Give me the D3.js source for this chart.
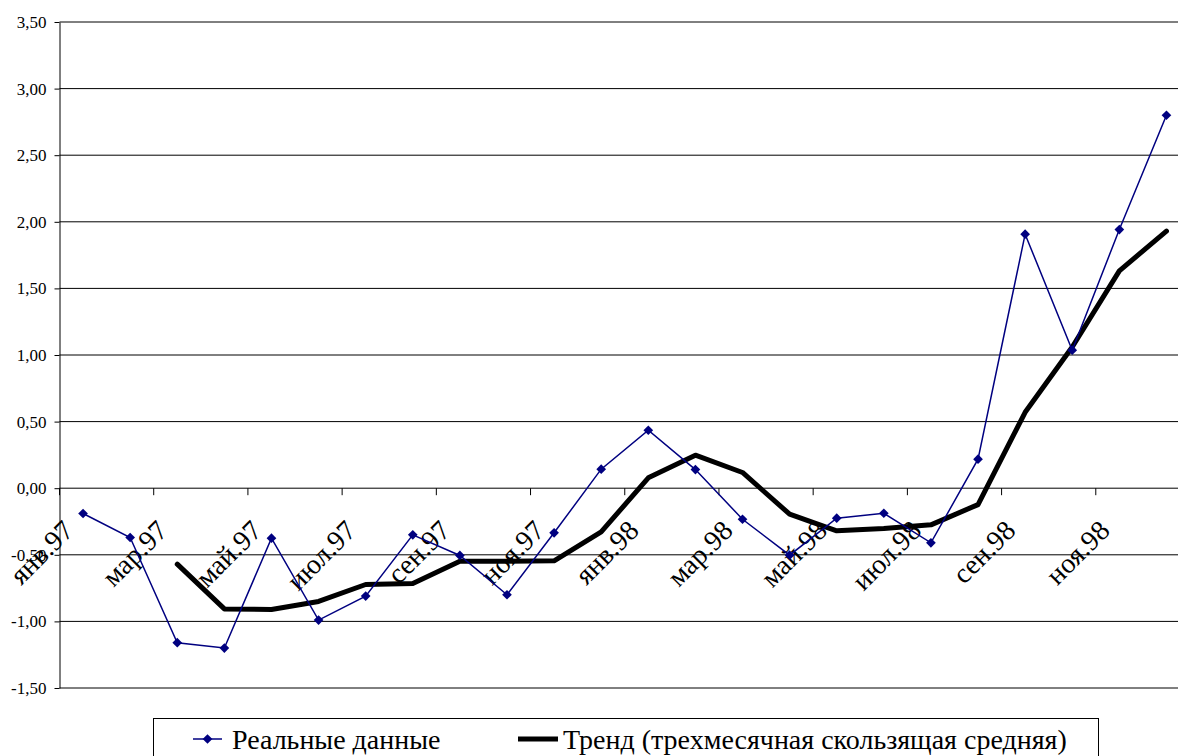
<!DOCTYPE html>
<html>
<head>
<meta charset="utf-8">
<script src="https://cdn.jsdelivr.net/npm/d3@7"></script>
<style>
  body { margin: 0; background: #fff; }
  svg text { font-family: "Liberation Serif", "Times New Roman", Times, "DejaVu Serif", serif; }
</style>
</head>
<body>
<div id="chart"></div>
<script>
var months = ["янв.97", "фев.97", "мар.97", "апр.97", "май.97", "июн.97",
    "июл.97", "авг.97", "сен.97", "окт.97", "ноя.97", "дек.97",
    "янв.98", "фев.98", "мар.98", "апр.98", "май.98", "июн.98",
    "июл.98", "авг.98", "сен.98", "окт.98", "ноя.98", "дек.98"];

// Реальные данные
var realValues = [-0.19, -0.37, -1.16, -1.20, -0.375, -0.99,
    -0.81, -0.35, -0.505, -0.80, -0.335, 0.143,
    0.435, 0.14, -0.233, -0.503, -0.225, -0.188,
    -0.41, 0.218, 1.907, 1.036, 1.942, 2.80];

// Тренд (трехмесячная скользящая средняя), first two months empty
var trendValues = [null, null, -0.57, -0.906, -0.91, -0.85,
    -0.723, -0.716, -0.548, -0.548, -0.545, -0.328,
    0.078, 0.248, 0.118, -0.195, -0.32, -0.303,
    -0.275, -0.123, 0.57, 1.06, 1.632, 1.93];

var yTicks = [-1.5, -1, -0.5, 0, 0.5, 1, 1.5, 2, 2.5, 3, 3.5];

var legendLabels = ["Реальные данные", "Тренд (трехмесячная скользящая средняя)"];

var fullWidth = 1178;
var fullHeight = 756;
var plotLeft = 59.5;
var plotRight = 1190;
var plotTop = 22;
var plotBottom = 688;
var serif = '"Liberation Serif", "Times New Roman", Times, "DejaVu Serif", serif';

var svg = d3.select("#chart")
    .append("svg")
    .attr("width", fullWidth)
    .attr("height", fullHeight);

var x = d3.scaleBand()
    .domain(months)
    .range([plotLeft, plotRight])
    .padding(0);

var cx = function (m) { return x(m) + x.bandwidth() / 2; };

var y = d3.scaleLinear()
    .domain([-1.5, 3.5])
    .range([plotBottom, plotTop]);

var fmt = function (d) { return d3.format(".2f")(d).replace(".", ",").replace("−", "-"); };

// gridlines
svg.append("g")
    .selectAll("line")
    .data(yTicks)
    .enter()
    .append("line")
    .attr("x1", plotLeft)
    .attr("x2", plotRight)
    .attr("y1", d => y(d))
    .attr("y2", d => y(d))
    .attr("stroke", "#000")
    .attr("stroke-width", 1);

// y axis
var yAxis = svg.append("g")
    .attr("transform", "translate(" + plotLeft + ",0)")
    .call(d3.axisLeft(y).tickValues(yTicks).tickFormat(fmt).tickSize(5).tickSizeOuter(0).tickPadding(8));
yAxis.attr("font-family", null);
yAxis.select(".domain").attr("stroke", "#000");
yAxis.selectAll(".tick line").attr("stroke", "#000");
yAxis.selectAll(".tick text")
    .attr("fill", "#000")
    .style("font-family", serif)
    .style("font-size", "17px");

// x axis ticks (every second category boundary) at y = 0
var tickIdx = months.map((m, i) => i).filter(i => i % 2 === 0);
svg.append("g")
    .selectAll("line")
    .data(tickIdx)
    .enter()
    .append("line")
    .attr("x1", i => x(months[i]))
    .attr("x2", i => x(months[i]))
    .attr("y1", y(0))
    .attr("y2", y(0) + 7)
    .attr("stroke", "#000")
    .attr("stroke-width", 1);

svg.append("g")
    .selectAll("text")
    .data(tickIdx)
    .enter()
    .append("text")
    .attr("text-anchor", "end")
    .attr("transform", i => "translate(" + (cx(months[i]) - 8) + "," + (y(0) + 44) + ") rotate(-45)")
    .style("font-family", serif)
    .style("font-size", "28px")
    .attr("fill", "#000")
    .text(i => months[i]);

// trend line
var trendLine = d3.line()
    .defined(d => d.v !== null)
    .x(d => cx(d.m))
    .y(d => y(d.v));

svg.append("path")
    .datum(months.map((m, i) => ({ m: m, v: trendValues[i] })))
    .attr("fill", "none")
    .attr("stroke", "#000")
    .attr("stroke-width", 5)
    .attr("stroke-linejoin", "round")
    .attr("stroke-linecap", "round")
    .attr("d", trendLine);

// real data line
var realData = months.map((m, i) => ({ m: m, v: realValues[i] }));
svg.append("path")
    .datum(realData)
    .attr("fill", "none")
    .attr("stroke", "#000080")
    .attr("stroke-width", 1.5)
    .attr("d", trendLine);

var diamond = d3.symbol().type(d3.symbolDiamond2).size(60);
svg.append("g")
    .selectAll("path")
    .data(realData)
    .enter()
    .append("path")
    .attr("d", diamond)
    .attr("transform", d => "translate(" + cx(d.m) + "," + y(d.v) + ")")
    .attr("fill", "#000080");

// legend
var legend = svg.append("g");
legend.append("rect")
    .attr("x", 153.5)
    .attr("y", 718.5)
    .attr("width", 945)
    .attr("height", 60)
    .attr("fill", "#fff")
    .attr("stroke", "#000")
    .attr("stroke-width", 1);

legend.append("line")
    .attr("x1", 193).attr("x2", 222)
    .attr("y1", 739).attr("y2", 739)
    .attr("stroke", "#000080").attr("stroke-width", 1.5);
legend.append("path")
    .attr("d", diamond)
    .attr("transform", "translate(207.5,739)")
    .attr("fill", "#000080");
legend.append("text")
    .attr("x", 232).attr("y", 749)
    .style("font-family", serif)
    .style("font-size", "28px")
    .text(legendLabels[0]);

legend.append("line")
    .attr("x1", 518).attr("x2", 558)
    .attr("y1", 739).attr("y2", 739)
    .attr("stroke", "#000").attr("stroke-width", 5);
legend.append("text")
    .attr("x", 563).attr("y", 749)
    .style("font-family", serif)
    .style("font-size", "28px")
    .text(legendLabels[1]);
</script>
</body>
</html>
